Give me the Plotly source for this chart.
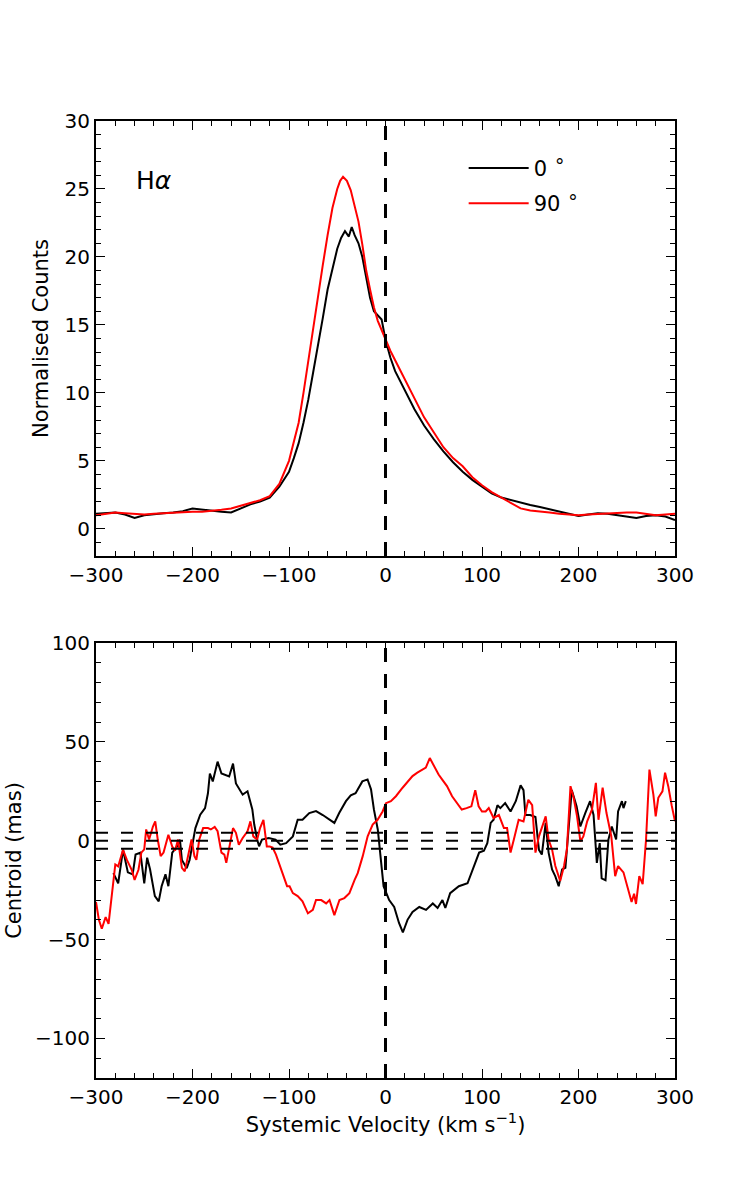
import plotly.graph_objects as go

# ---------------- data: H-alpha profile (top panel) ----------------
v_prof_0 = [-300, -290, -280, -270, -260, -250, -240, -230, -220, -210, -200, -190, -180, -170,
            -160, -150, -140, -130, -120, -110, -100, -95, -90, -85, -80, -75, -70, -65, -60, -55,
            -50, -46, -42, -38, -35, -32, -28, -24, -20, -16, -12, -8, -4, 0, 5, 10, 15, 20, 30,
            40, 50, 60, 70, 80, 90, 100, 110, 120, 130, 140, 150, 160, 170, 180, 190, 200, 210,
            220, 230, 240, 250, 260, 270, 280, 290, 300]
counts_0 = [1.1, 1.15, 1.2, 1.05, 0.8, 1.0, 1.1, 1.15, 1.2, 1.3, 1.5, 1.4, 1.3, 1.25,
            1.2, 1.5, 1.8, 2.0, 2.3, 3.1, 4.2, 5.2, 6.3, 7.8, 9.5, 11.5, 13.4, 15.5, 17.6, 19.2,
            20.6, 21.4, 21.9, 21.5, 22.2, 21.6, 21.0, 20.0, 18.6, 17.0, 16.0, 15.7, 15.4, 13.9, 12.6, 11.6, 10.9, 10.2, 8.8,
            7.6, 6.6, 5.7, 4.9, 4.2, 3.6, 3.1, 2.6, 2.3, 2.1, 1.9, 1.75, 1.6, 1.45, 1.25, 1.1, 0.95, 1.05,
            1.15, 1.1, 1.0, 0.9, 0.8, 0.95, 1.0, 0.9, 0.65]

v_prof_90 = [-300, -290, -280, -270, -260, -250, -240, -230, -220, -210, -200, -190, -180, -170,
             -160, -150, -140, -130, -120, -110, -100, -95, -90, -85, -80, -75, -70, -65, -60, -55,
             -50, -47, -44, -40, -36, -32, -28, -24, -20, -16, -12, -8, -4, 0, 5, 10, 15, 20, 30,
             40, 50, 60, 70, 80, 90, 100, 110, 120, 130, 140, 150, 160, 170, 180, 190, 200, 210,
             220, 230, 240, 250, 260, 270, 280, 290, 300]
counts_90 = [1.0, 1.1, 1.2, 1.15, 1.1, 1.05, 1.1, 1.15, 1.2, 1.2, 1.25, 1.25, 1.3, 1.4,
             1.5, 1.7, 1.9, 2.1, 2.4, 3.3, 5.0, 6.3, 7.8, 10.0, 12.4, 14.8, 17.2, 19.4, 21.6, 23.6,
             25.0, 25.6, 25.9, 25.6, 24.9, 23.8, 22.6, 20.9, 19.0, 17.6, 16.3, 15.3, 14.6, 13.9, 13.1, 12.4, 11.7, 10.9, 9.5,
             8.2, 7.1, 6.0, 5.2, 4.6, 3.8, 3.2, 2.7, 2.3, 1.9, 1.5, 1.35, 1.3, 1.2, 1.1, 1.05, 1.0, 1.05,
             1.1, 1.15, 1.2, 1.2, 1.2, 1.1, 1.0, 1.05, 1.1]

# ---------------- data: centroid (bottom panel) ----------------
v_cen_0 = [-282, -277, -272, -267, -262, -259, -254, -250, -247, -244, -239, -235, -232, -228, -225,
           -221, -216, -213, -211, -206, -203, -197, -192, -187, -184, -182, -179, -174, -170, -165,
           -162, -158, -155, -148, -143, -138, -136, -133, -131, -128, -121, -114, -109, -103, -96,
           -91, -86, -79, -72, -65, -58, -53, -48, -41, -36, -31, -24, -18.6, -15, -12, -8, -5, -2,
           3.8, 9, 14, 18, 22.8, 28, 35, 42, 49, 54, 59, 62, 67, 76, 85, 90, 97, 102, 105.5, 109,
           112, 116, 119, 124, 129.6, 135, 140, 143, 145, 150, 155.4, 159, 162, 166, 169, 172.6,
           176, 179.5, 183, 186.4, 190, 193, 198, 201.9, 207, 212, 215.6, 219, 222, 224, 228, 231,
           234.5, 239, 241, 245, 246.6, 249]
cen_0 = [-16.4, -21.5, -4.6, -16, -17, -7, -6, -21.6, -8.6, -14.4, -28, -30.7, -23, -17, -23,
         -6, -2.9, 0.5, -9.7, -13.9, -9.7, 6.4, 13.2, 16.5, 24, 34, 30, 40, 34, 33,
         32.5, 39, 29, 23.3, 25, 15.8, 8.2, 0.6, -2.8, 0.6, 1.4, 0.6, -2, -1.2, 2.2,
         10.6, 10.6, 14, 15, 13, 10.6, 9, 14, 20, 23, 24, 30, 31, 26, 15.8, 5.7, -7.8, -23,
         -30, -33.5, -41.6, -46.4, -40, -36, -33.5, -35, -31.7, -34, -30, -34, -26.5, -23, -21.5, -14.6, -6, -5, -1.2, 9,
         10.6, 18, 16.5, 19, 14.8, 20, 28, 25.6, 13, 13, 12, -4.6, -7, 9, -6, -14.5,
         -18, -23, -14.5, -13.7, 8.2, 25.6, 17.4, 7.2, 14, 20, 13, -11.2, -1.2, -19, -20, 0.6,
         7.2, 0.6, 14.8, 20, 16.5, 20]

v_cen_90 = [-300, -297, -294, -290, -287, -284, -280, -277, -272, -268, -263, -260, -256, -253, -250,
            -248, -245, -241, -238.6, -236, -233, -230, -225, -221, -218, -215, -211, -208, -205,
            -201, -198, -196, -193, -189, -184, -181, -177, -174, -170, -167, -165, -162, -158, -155,
            -152, -148, -143, -140, -137, -133, -130, -126.5, -123, -120, -117, -113.5, -110, -106.8,
            -102, -99.4, -96, -91, -86, -80.4, -75.3, -72, -66.6, -61.5, -58, -53, -47.7, -42.6,
            -37.4, -32, -28.8, -23.6, -18.5, -13.3, -8.2, -3, 0.5, 5.6, 10.8, 17.7, 22.8, 28, 33,
            38, 41.8, 45.9, 50, 55, 58.6, 63.7, 69, 74, 79, 84, 89, 93, 96.5, 100, 103.8, 107, 112,
            117.5, 122.7, 126, 129.6, 133, 138, 143, 148, 152, 155.4, 159, 162, 166, 169, 172.6, 176,
            181, 185, 188, 191.7, 195, 198.5, 202, 205, 209, 214, 218, 220.7, 225, 229, 234, 238,
            241, 246.6, 251.7, 255, 257.6, 259.6, 263, 266.5, 270, 273.5, 277.6, 280, 282.7, 287,
            289.7, 293, 296.5, 300]
cen_90 = [-31, -40, -44.5, -38.6, -42, -30, -12, -13, -4.6, -9.7, -14.7, -19.8, -14.7, -6, -4.4,
          5.7, 0.6, 7.2, 9.8, 0.6, -7.8, -6, 3, -2.9, -5, 0.6, -13.7, -15.5, -8.6,
          0.6, -7.8, -9.7, 0.6, 6.4, 6.4, 5.7, 7, 4.8, -6, -7, -11.2, -4.4, 6.4, 4,
          -2, 1.4, 4.8, 9.8, 2.2, 0.6, 6.4, 10.6, -2.9, -2.9, -3.5, -7, -12, -17,
          -23, -23, -26.5, -28, -30.7, -36.7, -35, -30, -30, -31.7, -30, -37.6, -30, -29,
          -26.5, -19.8, -16.4, -7.8, 2.2, 8.2, 10.6, 14.8, 19, 20, 22.5, 26.8, 30, 32.7, 34.4,
          36, 37, 41.8, 37.8, 33.5, 31, 27.6, 22.5, 19, 15.8, 16.5, 17.4, 25.6, 17.4, 14.8, 14.8, 16.5, 11.5,
          13, 6.4, 6.4, -6, 0.6, 10.6, 9.8, 20.7, 18, -6, 2.2, 6.4, 12.3, 0.6, -4.4, -12.8,
          -20.4, -12.8, -4.4, 27.6, 21.7, 12.3, -0.4, 2.2, 9.8, 15.8, 29.3, 10.6, 26.8, 14, 2.2, -17.9,
          -12.8, -16, -25.2, -31, -26.8, -32, -17.9, -22, 0.6, 36, 23.3, 12.3, 21.7, 25,
          34.4, 27.6, 18, 9.8]

DEG = "<sup><span style='font-size:19px'>\u2218</span></sup>"
labels = ["0 " + DEG, "90 " + DEG]
line_colors = ["#000000", "#ff0000"]
zero_velocity = 0
centroid_levels = [4, 0, -4]
x_range = [-300, 300]
top_y_range = [-2, 30]
bot_y_range = [-120, 100]

FONT = "DejaVu Sans, Verdana, sans-serif"

fig = go.Figure()

fig.add_trace(go.Scatter(x=v_prof_0, y=counts_0, mode="lines", name=labels[0], legendgroup="a",
                         line=dict(color=line_colors[0], width=2), xaxis="x", yaxis="y"))
fig.add_trace(go.Scatter(x=v_prof_90, y=counts_90, mode="lines", name=labels[1], legendgroup="b",
                         line=dict(color=line_colors[1], width=2), xaxis="x", yaxis="y"))
fig.add_trace(go.Scatter(x=v_cen_0, y=cen_0, mode="lines", showlegend=False,
                         line=dict(color=line_colors[0], width=2), xaxis="x2", yaxis="y2"))
fig.add_trace(go.Scatter(x=v_cen_90, y=cen_90, mode="lines", showlegend=False,
                         line=dict(color=line_colors[1], width=2), xaxis="x2", yaxis="y2"))

# reference lines
for xr, yr in [("x", "y"), ("x2", "y2")]:
    fig.add_shape(type="line", xref=xr, yref=yr + " domain", x0=zero_velocity, x1=zero_velocity,
                  y0=0, y1=1, line=dict(color="black", width=3, dash="14px,12px"), layer="above")
for lev in centroid_levels:
    fig.add_shape(type="line", xref="x2 domain", yref="y2", x0=0, x1=1, y0=lev, y1=lev,
                  line=dict(color="black", width=2, dash="12px,13px"), layer="above")

tick_font = dict(family=FONT, size=20, color="black")
title_font = dict(family=FONT, size=21, color="black")
common_x = dict(range=x_range, dtick=100, tick0=0, ticks="inside", ticklen=9, tickwidth=1,
                tickcolor="black", showline=True, linecolor="black", linewidth=2, mirror="ticks",
                showgrid=False, zeroline=False, tickfont=tick_font,
                minor=dict(ticks="inside", dtick=20, ticklen=5, tickwidth=1, tickcolor="black", showgrid=False))

fig.update_layout(
    width=750, height=1200,
    margin=dict(l=94, r=75, t=121, b=122),
    paper_bgcolor="white", plot_bgcolor="white",
    font=dict(family=FONT, color="black"),
    xaxis=dict(domain=[0, 1], anchor="y", **common_x),
    yaxis=dict(domain=[522 / 957, 1], anchor="x", range=top_y_range, dtick=5, tick0=0,
               ticks="inside", ticklen=9, tickwidth=1, tickcolor="black", showline=True,
               linecolor="black", linewidth=2, mirror="ticks", showgrid=False, zeroline=False,
               tickfont=tick_font,
               minor=dict(ticks="inside", dtick=1, ticklen=5, tickwidth=1, tickcolor="black", showgrid=False),
               title=dict(text="Normalised Counts", font=title_font, standoff=10)),
    xaxis2=dict(domain=[0, 1], anchor="y2",
                title=dict(text="Systemic Velocity (km s<sup>\u22121</sup>)", font=title_font, standoff=6),
                **common_x),
    yaxis2=dict(domain=[0, 435 / 957], anchor="x2", range=bot_y_range, dtick=50, tick0=0,
                ticks="inside", ticklen=9, tickwidth=1, tickcolor="black", showline=True,
                linecolor="black", linewidth=2, mirror="ticks", showgrid=False, zeroline=False,
                tickfont=tick_font,
                minor=dict(ticks="inside", dtick=10, ticklen=5, tickwidth=1, tickcolor="black", showgrid=False),
                title=dict(text="Centroid (mas)", font=title_font, standoff=8)),
    legend=dict(x=0.635, y=0.972, xanchor="left", yanchor="top", bgcolor="rgba(0,0,0,0)",
                font=dict(family=FONT, size=21, color="black"), tracegroupgap=5, itemwidth=60),
    showlegend=True,
)

fig.add_annotation(x=-240, y=25.6, xref="x", yref="y", text="H<i>\u03b1</i>", showarrow=False,
                   font=dict(family=FONT, size=25, color="black"))

fig.write_html("out.html")
